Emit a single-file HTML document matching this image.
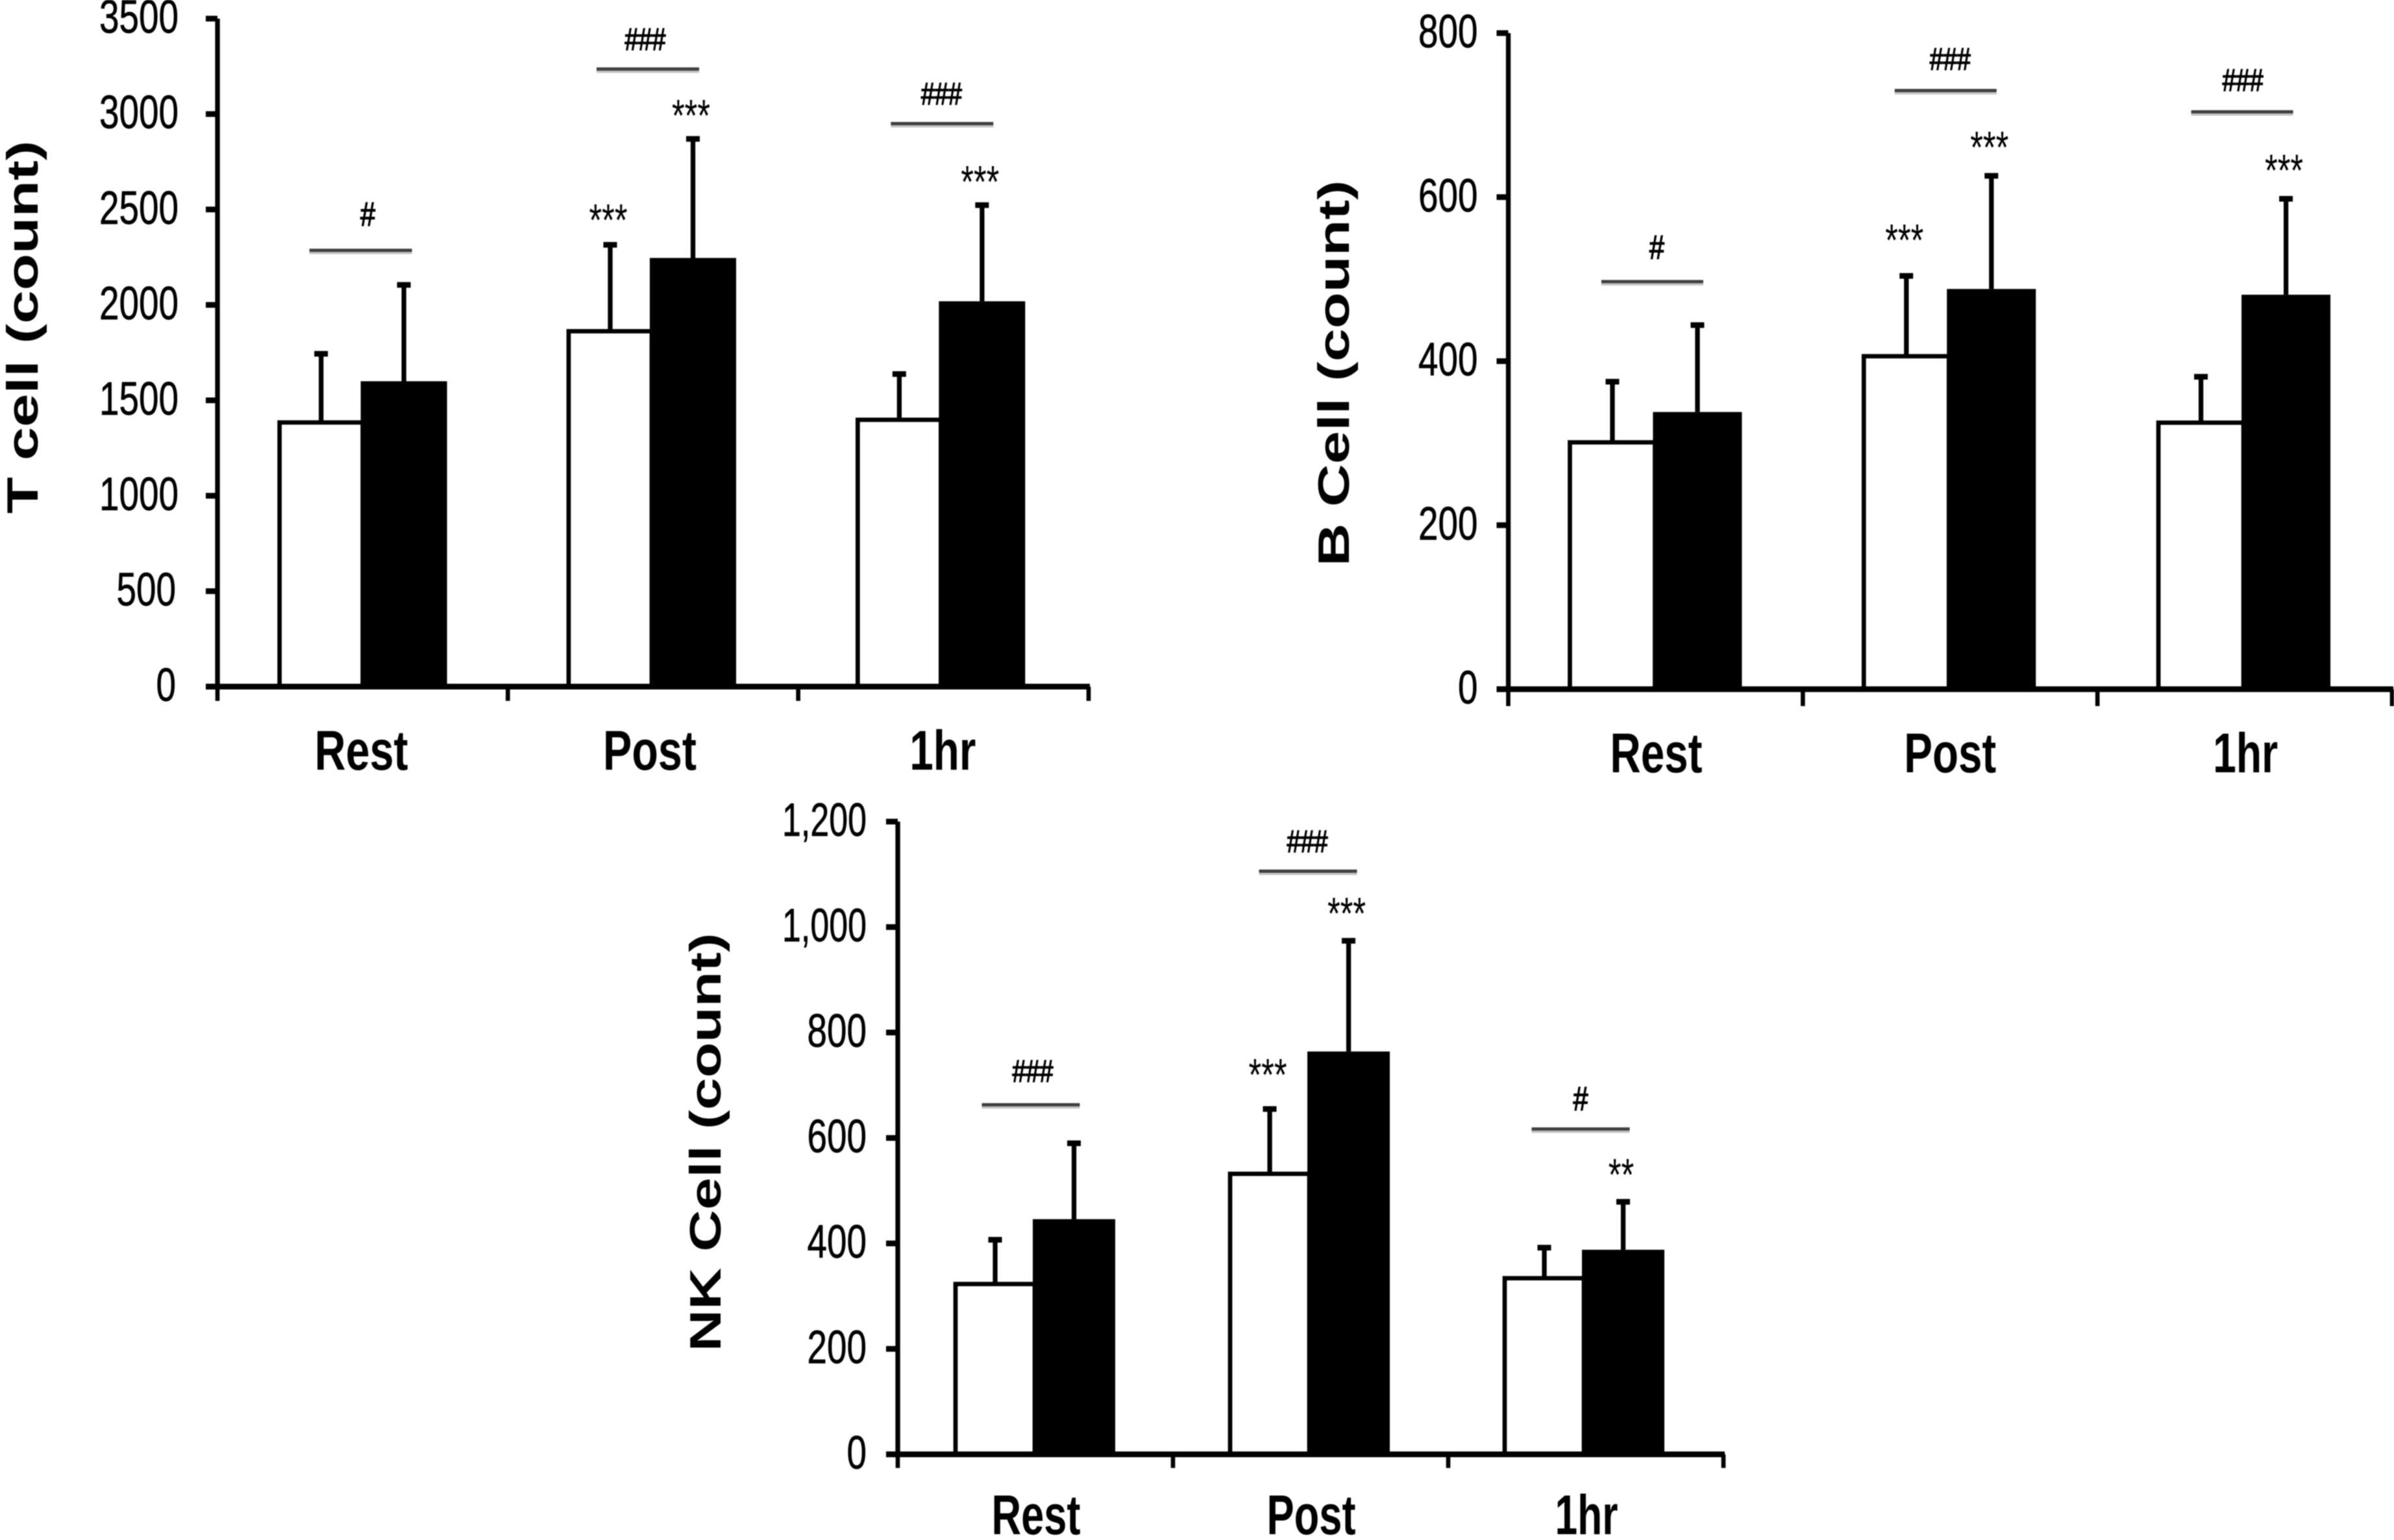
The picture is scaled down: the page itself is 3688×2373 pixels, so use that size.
<!DOCTYPE html>
<html lang="en">
<head>
<meta charset="utf-8">
<title>Lymphocyte counts at rest, post exercise and 1hr</title>
<style>
html,body{margin:0;padding:0;background:#fff;}
svg{display:block;width:3688px;height:2373px;background:#fff;filter:blur(0.9px);font-family:"Liberation Sans",Arial,sans-serif;}
</style>
</head>
<body>
<svg id="figure" xmlns="http://www.w3.org/2000/svg" width="3688" height="2373" viewBox="0 0 3688 2373"></svg>
<script>
// ---------- Data ----------
const categories = ['Rest', 'Post', '1hr'];

const tickValuesT = [0, 500, 1000, 1500, 2000, 2500, 3000, 3500];
const tickLabelsT = ['0', '500', '1000', '1500', '2000', '2500', '3000', '3500'];
const whiteT = [1384, 1862, 1398];
const blackT = [1600, 2246, 2019];
const errWhiteT = [360, 453, 240];
const errBlackT = [505, 624, 504];
const bracketT = [2286, 3236, 2950];
const hashT = ['#', '###', '###'];
const starsWhiteT = ['', '***', ''];
const starsBlackT = ['', '***', '***'];

const tickValuesB = [0, 200, 400, 600, 800];
const tickLabelsB = ['0', '200', '400', '600', '800'];
const whiteB = [301, 406, 325];
const blackB = [338, 488, 481];
const errWhiteB = [74, 98, 56];
const errBlackB = [106, 138, 117];
const bracketB = [497, 730, 704];
const hashB = ['#', '###', '###'];
const starsWhiteB = ['', '***', ''];
const starsBlackB = ['', '***', '***'];

const tickValuesNK = [0, 200, 400, 600, 800, 1000, 1200];
const tickLabelsNK = ['0', '200', '400', '600', '800', '1,000', '1,200'];
const whiteNK = [323, 532, 334];
const blackNK = [446, 764, 388];
const errWhiteNK = [84, 123, 58];
const errBlackNK = [144, 210, 91];
const bracketNK = [663, 1106, 617];
const hashNK = ['###', '###', '#'];
const starsWhiteNK = ['', '***', ''];
const starsBlackNK = ['', '***', '**'];

// ---------- Layout (pixels, independent of the data) ----------
const panels = [
  { id: 't-cell', title: 'T cell (count)', left: 335, right: 1677, top: 28.7, base: 1058, yMax: 3500,
    ticks: tickValuesT, labels: tickLabelsT, white: whiteT, black: blackT, errW: errWhiteT, errB: errBlackT,
    bracket: bracketT, hash: hashT, starsW: starsWhiteT, starsB: starsBlackT,
    labelGap: 60, labelGapShort: 64, titleX: 58, titleY: 504, titleLen: 575,
    catBase: 1186, catW: [144, 102], catDx: [-2, -5, -1], xTick: 22,
    wW: 128, wB: 133, barDx: [-3, -5, -7], bracketW: 158, bracketDx: [-3, -8, -2], hashDx: [11, -4, -1], hashDy: [-10, 0, 0],
    starGapW: 50, starGapB: 48, hashGap: 46 },
  { id: 'b-cell', title: 'B Cell (count)', left: 2323.5, right: 3685, top: 51, base: 1062, yMax: 800,
    ticks: tickValuesB, labels: tickLabelsB, white: whiteB, black: blackB, errW: errWhiteB, errB: errBlackB,
    bracket: bracketB, hash: hashB, starsW: starsWhiteB, starsB: starsBlackB,
    labelGap: 47, labelGapShort: 47, titleX: 2078, titleY: 575, titleLen: 595,
    catBase: 1190, catW: [142, 100], catDx: [1, 0, 1], xTick: 26,
    wW: 131, wB: 137, barDx: [-4, -5, -5], bracketW: 157, bracketDx: [-5, -7, -4], hashDx: [7, 7, 1], hashDy: [-4, 0, 0],
    starGapW: 67, starGapB: 56, hashGap: 49 },
  { id: 'nk-cell', title: 'NK Cell (count)', left: 1383, right: 2655, top: 1266, base: 2241, yMax: 1200,
    ticks: tickValuesNK, labels: tickLabelsNK, white: whiteNK, black: blackNK, errW: errWhiteNK, errB: errBlackNK,
    bracket: bracketNK, hash: hashNK, starsW: starsWhiteNK, starsB: starsBlackNK,
    labelGap: 48, labelGapShort: 48, titleX: 1110, titleY: 1760, titleLen: 645,
    catBase: 2364, catW: [137, 97], catDx: [1, 1, 1], xTick: 21,
    wW: 122, wB: 127, barDx: [-4, -5, -6], bracketW: 151, bracketDx: [-7, -4, -8], hashDx: [3, -1, 0], hashDy: [-7, -1, -2],
    starGapW: 65, starGapB: 54, hashGap: 45 }
];

const NS = 'http://www.w3.org/2000/svg';
const svg = document.getElementById('figure');

function make(tag, attrs, parent, content) {
  const el = document.createElementNS(NS, tag);
  for (const k in attrs) el.setAttribute(k, attrs[k]);
  if (content !== undefined) el.textContent = content;
  parent.appendChild(el);
  return el;
}

function drawPanel(p) {
  const g = make('g', {}, svg);
  
  

  const y = v => p.base - (v / p.yMax) * (p.base - p.top);
  const band = (p.right - p.left) / categories.length;
  const cx = i => p.left + band * (i + 0.5);

  // Bars and error bars
  categories.forEach((cat, i) => {
    const c = cx(i) + p.barDx[i];
    const key = cat.toLowerCase();

    const wTop = y(p.white[i]);
    const wErr = y(p.white[i] + p.errW[i]);
    const wMid = c - p.wW / 2 + 3;
    const stemW = make('rect', { x: wMid - 3.6, y: wErr, width: 7.3, height: wTop - wErr, fill: '#000' }, g);
    
    
    const capW = make('rect', { x: wMid - 10.5, y: wErr - 4.3, width: 21, height: 8.7, fill: '#000' }, g);
    
    
    const barW = make('rect', { x: c - p.wW + 3, y: wTop, width: p.wW, height: p.base - wTop, fill: '#fff', stroke: '#000', 'stroke-width': 6.7 }, g);
    
    

    const bTop = y(p.black[i]);
    const bErr = y(p.black[i] + p.errB[i]);
    const bMid = c + p.wB / 2;
    const stemB = make('rect', { x: bMid - 3.6, y: bErr, width: 7.3, height: bTop - bErr, fill: '#000' }, g);
    
    
    const capB = make('rect', { x: bMid - 10.5, y: bErr - 4.3, width: 21, height: 8.7, fill: '#000' }, g);
    
    
    const barB = make('rect', { x: c, y: bTop, width: p.wB, height: p.base - bTop, fill: '#000' }, g);
    
    

    // Significance stars
    if (p.starsW[i]) {
      const s = make('text', { x: wMid - 3, y: wErr - p.starGapW + 36, 'font-size': 70, 'text-anchor': 'middle', textLength: 59, lengthAdjust: 'spacingAndGlyphs', fill: '#000' }, g, p.starsW[i]);
      
      
    }
    if (p.starsB[i]) {
      const len = p.starsB[i].length * 19.7;
      const s = make('text', { x: bMid - 3, y: bErr - p.starGapB + 36, 'font-size': 70, 'text-anchor': 'middle', textLength: len, lengthAdjust: 'spacingAndGlyphs', fill: '#000' }, g, p.starsB[i]);
      
      
    }

    // Bracket line and hash marks
    const by = y(p.bracket[i]);
    const bc = cx(i) + p.bracketDx[i];
    const shade = make('rect', { x: bc - p.bracketW / 2, y: by + 2, width: p.bracketW, height: 4, fill: '#c4c4c4' }, g);
    
    
    const line = make('rect', { x: bc - p.bracketW / 2, y: by - 2.5, width: p.bracketW, height: 5, fill: '#404040' }, g);
    
    
    const single = p.hash[i].length === 1;
    const fs = single ? 52 : 48;
    const h = make('text', { x: bc + p.hashDx[i], y: by - p.hashGap + p.hashDy[i] + fs * 0.35, 'font-size': fs, 'text-anchor': 'middle', textLength: single ? 23 : 63, lengthAdjust: 'spacingAndGlyphs', fill: '#000', stroke: '#000', 'stroke-width': 1.5 }, g, p.hash[i]);
    
    

    // Category label
    const labelWidth = cat === '1hr' ? p.catW[1] : p.catW[0];
    const lab = make('text', { x: cx(i) + p.catDx[i], y: p.catBase, 'font-size': 86, 'font-weight': 'bold', 'text-anchor': 'middle', textLength: labelWidth, lengthAdjust: 'spacingAndGlyphs', fill: '#000' }, g, cat);
    
    
  });

  // Y axis
  const yAxis = make('rect', { x: p.left - 3.6, y: p.top, width: 7.3, height: p.base - p.top, fill: '#000' }, g);
  
  
  p.ticks.forEach((v, i) => {
    const ty = y(v);
    const t = make('rect', { x: p.left - 18, y: ty - 4.4, width: 18, height: 8.8, fill: '#000' }, g);
    
    
    const digits = p.labels[i].replace(',', '').length;
    const commas = p.labels[i].length - digits;
    const gap = digits < 4 ? p.labelGapShort : p.labelGap;
    const lab = make('text', { x: p.left - gap, y: ty + 22, 'font-size': 72, 'text-anchor': 'end', textLength: digits * 30.5 + commas * 8, lengthAdjust: 'spacingAndGlyphs', fill: '#000', stroke: '#000', 'stroke-width': 0.7 }, g, p.labels[i]);
    
    
  });

  // X axis
  const xAxis = make('rect', { x: p.left - 18, y: p.base - 4.4, width: p.right - p.left + 20, height: 8.8, fill: '#000' }, g);
  
  
  for (let i = 0; i <= categories.length; i++) {
    const t = make('rect', { x: p.left + band * i - 3.3, y: p.base, width: 6.6, height: p.xTick, fill: '#000' }, g);
    
    
  }

  // Y axis title
  const title = make('text', { x: 0, y: 0, 'font-size': 68, 'font-weight': 'bold', 'text-anchor': 'middle', textLength: p.titleLen, lengthAdjust: 'spacingAndGlyphs', fill: '#000', transform: 'translate(' + p.titleX + ',' + p.titleY + ') rotate(-90)' }, g, p.title);
  
  
}

panels.forEach(drawPanel);
</script>
</body>
</html>
